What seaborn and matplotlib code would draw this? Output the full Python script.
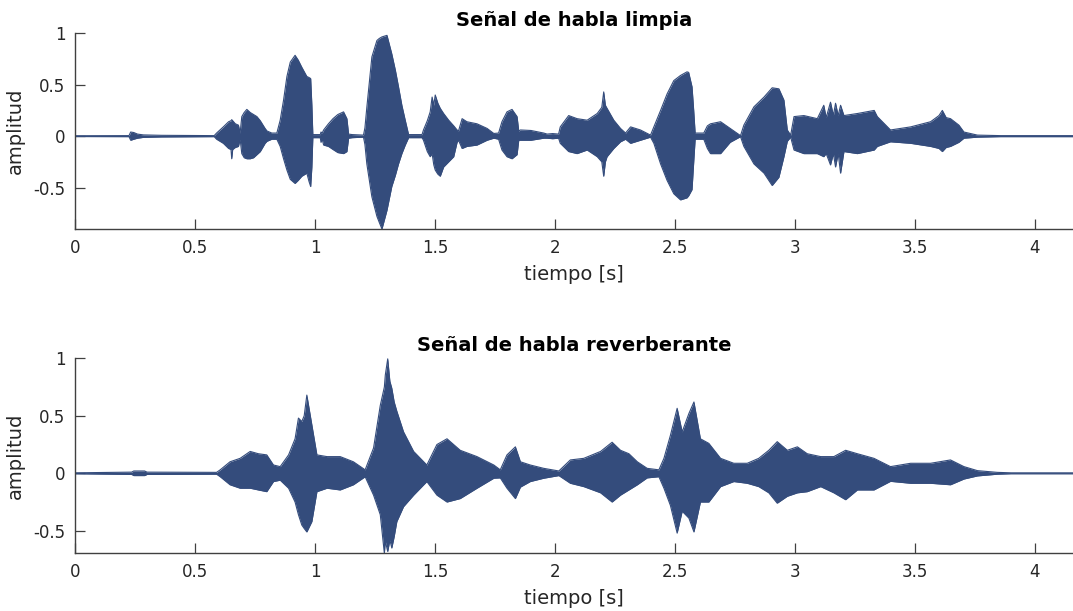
import numpy as np
import pandas as pd
import matplotlib
matplotlib.use("Agg")
import matplotlib.pyplot as plt
import seaborn as sns
from matplotlib.ticker import FormatStrFormatter

# ---------------- data (envelope) ----------------
titles = ["Señal de habla limpia", "Señal de habla reverberante"]
xlabel = "tiempo [s]"
ylabel = "amplitud"
x_ticks = [0, 0.5, 1, 1.5, 2, 2.5, 3, 3.5, 4]
y_ticks = [-0.5, 0, 0.5, 1]

clean_t = [0.000, 0.225, 0.232, 0.245, 0.26, 0.285, 0.36, 0.58, 0.59, 0.618, 0.64,
           0.650, 0.653, 0.657, 0.668, 0.681, 0.688, 0.695, 0.705, 0.716, 0.73, 0.744, 0.758, 0.772,
           0.792, 0.80, 0.82, 0.841, 0.855, 0.869, 0.883, 0.897, 0.917, 0.93, 0.945,
           0.966, 0.975, 0.982, 0.987, 0.991, 1.022, 1.025, 1.030, 1.036, 1.056, 1.075, 1.095,
           1.119, 1.133, 1.14, 1.155, 1.202, 1.208, 1.216, 1.237, 1.258, 1.268, 1.279, 1.30,
           1.32, 1.335, 1.348, 1.362, 1.376, 1.39, 1.446, 1.452, 1.468, 1.48, 1.488, 1.495,
           1.501, 1.512, 1.522, 1.536, 1.557, 1.578, 1.592, 1.598, 1.613, 1.633, 1.675, 1.717,
           1.745, 1.765, 1.779, 1.80, 1.821, 1.842, 1.849, 1.856, 1.90, 1.953, 1.967, 1.99,
           2.015, 2.022, 2.057, 2.092, 2.134, 2.176, 2.195, 2.203, 2.210, 2.217, 2.245, 2.273,
           2.294, 2.315, 2.356, 2.398, 2.412, 2.44, 2.467, 2.495, 2.523, 2.55, 2.557, 2.571,
           2.578, 2.584, 2.62, 2.635, 2.648, 2.69, 2.73, 2.773, 2.787, 2.829, 2.871, 2.905,
           2.933, 2.954, 2.968, 2.982, 2.996, 3.037, 3.093, 3.12, 3.13, 3.148, 3.16, 3.169,
           3.18, 3.19, 3.204, 3.26, 3.33, 3.343, 3.398, 3.482, 3.565, 3.60, 3.614, 3.63,
           3.648, 3.683, 3.704, 3.76, 3.857, 4.16]
clean_up = [0.004, 0.005, 0.04, 0.035, 0.02, 0.012, 0.008, 0.005, 0.03, 0.09, 0.14,
            0.15, 0.16, 0.15, 0.12, 0.107, 0.03, 0.19, 0.23, 0.26, 0.23, 0.21, 0.19, 0.15,
            0.075, 0.05, 0.03, 0.03, 0.155, 0.35, 0.58, 0.72, 0.786, 0.74, 0.67,
            0.58, 0.57, 0.56, 0.30, 0.015, 0.015, 0.04, 0.03, 0.06, 0.12, 0.17, 0.21,
            0.236, 0.17, 0.02, 0.015, 0.01, 0.08, 0.28, 0.77, 0.93, 0.95, 0.965, 0.98,
            0.80, 0.64, 0.48, 0.30, 0.155, 0.015, 0.015, 0.06, 0.15, 0.236, 0.38, 0.30,
            0.40, 0.32, 0.27, 0.22, 0.155, 0.10, 0.06, 0.05, 0.17, 0.14, 0.12, 0.075,
            0.026, 0.03, 0.14, 0.236, 0.26, 0.19, 0.05, 0.06, 0.055, 0.03, 0.02, 0.025,
            0.02, 0.09, 0.20, 0.17, 0.155, 0.22, 0.28, 0.43, 0.30, 0.27, 0.155, 0.075,
            0.03, 0.09, 0.06, 0.01, 0.09, 0.25, 0.41, 0.54, 0.59, 0.625, 0.62, 0.48,
            0.25, 0.03, 0.03, 0.10, 0.12, 0.14, 0.075, 0.005, 0.107, 0.285, 0.38, 0.47,
            0.46, 0.35, 0.06, 0.01, 0.19, 0.20, 0.17, 0.30, 0.18, 0.33, 0.20, 0.32,
            0.20, 0.30, 0.20, 0.22, 0.25, 0.19, 0.06, 0.09, 0.14, 0.20, 0.25, 0.18,
            0.17, 0.107, 0.04, 0.01, 0.005, 0.005]
clean_lo = [-0.004, -0.005, -0.04, -0.03, -0.02, -0.012, -0.008, -0.005, -0.03, -0.07, -0.12,
            -0.13, -0.22, -0.13, -0.11, -0.10, -0.03, -0.17, -0.21, -0.22, -0.22, -0.21, -0.18, -0.15,
            -0.07, -0.05, -0.03, -0.03, -0.10, -0.22, -0.33, -0.42, -0.46, -0.43, -0.39,
            -0.36, -0.44, -0.49, -0.30, -0.015, -0.015, -0.06, -0.03, -0.087, -0.10, -0.13, -0.16,
            -0.17, -0.15, -0.02, -0.015, -0.01, -0.08, -0.27, -0.59, -0.78, -0.84, -0.903, -0.72,
            -0.49, -0.38, -0.27, -0.17, -0.087, -0.015, -0.015, -0.04, -0.15, -0.20, -0.17, -0.28,
            -0.33, -0.37, -0.39, -0.30, -0.25, -0.20, -0.06, -0.04, -0.12, -0.10, -0.087, -0.04,
            -0.02, -0.03, -0.135, -0.20, -0.22, -0.18, -0.04, -0.04, -0.04, -0.02, -0.02, -0.025,
            -0.02, -0.07, -0.15, -0.17, -0.135, -0.20, -0.25, -0.39, -0.25, -0.20, -0.12, -0.055,
            -0.03, -0.07, -0.04, -0.01, -0.07, -0.27, -0.43, -0.56, -0.62, -0.60, -0.58, -0.52,
            -0.25, -0.03, -0.03, -0.12, -0.17, -0.17, -0.06, -0.005, -0.10, -0.27, -0.36, -0.48,
            -0.40, -0.20, -0.05, -0.01, -0.135, -0.17, -0.17, -0.20, -0.17, -0.28, -0.17, -0.30,
            -0.17, -0.36, -0.15, -0.17, -0.135, -0.10, -0.055, -0.07, -0.10, -0.12, -0.15, -0.11,
            -0.10, -0.06, -0.02, -0.01, -0.005, -0.005]

reverb_t = [0.000, 0.236, 0.245, 0.29, 0.30, 0.59, 0.605, 0.646, 0.688, 0.73, 0.764,
            0.799, 0.827, 0.855, 0.89, 0.917, 0.931, 0.945, 0.955, 0.966, 0.987, 1.008,
            1.05, 1.105, 1.16, 1.209, 1.244, 1.272, 1.289, 1.293, 1.303, 1.312, 1.32, 1.33,
            1.341, 1.369, 1.411, 1.466, 1.508, 1.55, 1.605, 1.675, 1.745, 1.772, 1.80,
            1.835, 1.856, 1.897, 1.953, 2.016, 2.064, 2.12, 2.19, 2.238, 2.273, 2.308,
            2.343, 2.384, 2.433, 2.454, 2.481, 2.509, 2.53, 2.558, 2.579, 2.606, 2.641,
            2.69, 2.745, 2.801, 2.849, 2.891, 2.926, 2.968, 3.01, 3.051, 3.107, 3.162,
            3.211, 3.26, 3.329, 3.398, 3.482, 3.565, 3.648, 3.704, 3.76, 3.843, 3.90, 4.16]
reverb_up = [0.004, 0.01, 0.02, 0.02, 0.01, 0.008, 0.03, 0.10, 0.13, 0.19, 0.17,
             0.16, 0.072, 0.058, 0.16, 0.30, 0.48, 0.45, 0.50, 0.68, 0.42, 0.16,
             0.145, 0.145, 0.10, 0.03, 0.22, 0.59, 0.75, 0.855, 0.995, 0.80, 0.74, 0.62,
             0.54, 0.36, 0.19, 0.072, 0.25, 0.30, 0.20, 0.145, 0.072, 0.03, 0.16,
             0.23, 0.10, 0.072, 0.043, 0.02, 0.116, 0.13, 0.19, 0.27, 0.20, 0.17,
             0.10, 0.043, 0.03, 0.13, 0.33, 0.565, 0.36, 0.52, 0.62, 0.30, 0.26,
             0.13, 0.087, 0.087, 0.13, 0.20, 0.275, 0.20, 0.23, 0.17, 0.145, 0.145,
             0.20, 0.17, 0.13, 0.058, 0.087, 0.087, 0.116, 0.058, 0.023, 0.008, 0.004, 0.004]
reverb_lo = [-0.004, -0.01, -0.02, -0.02, -0.01, -0.008, -0.03, -0.10, -0.13, -0.13, -0.145,
             -0.16, -0.072, -0.06, -0.13, -0.25, -0.36, -0.45, -0.48, -0.51, -0.42, -0.16,
             -0.13, -0.145, -0.10, -0.03, -0.19, -0.36, -0.696, -0.59, -0.68, -0.58, -0.65, -0.55,
             -0.42, -0.29, -0.19, -0.072, -0.19, -0.25, -0.22, -0.13, -0.043, -0.04, -0.13,
             -0.22, -0.12, -0.072, -0.043, -0.02, -0.087, -0.116, -0.17, -0.25, -0.19, -0.145,
             -0.10, -0.04, -0.03, -0.13, -0.28, -0.52, -0.33, -0.39, -0.51, -0.25, -0.25,
             -0.116, -0.072, -0.087, -0.116, -0.17, -0.26, -0.20, -0.17, -0.16, -0.116, -0.17,
             -0.23, -0.145, -0.145, -0.07, -0.087, -0.087, -0.10, -0.05, -0.023, -0.008, -0.004, -0.004]

# ---------------- style ----------------
sns.set_theme(style="white")
plt.rcParams["font.family"] = ["DejaVu Sans"]
plt.rcParams["axes.unicode_minus"] = False

wave_color = "#344c7c"
axis_color = "#404040"
text_color = "#262626"

fig = plt.figure(figsize=(10.73, 6.11), dpi=100)
ax_top = fig.add_axes([0.0699, 0.6252, 0.930, 0.3203])
ax_bot = fig.add_axes([0.0699, 0.0944, 0.930, 0.3192])

series = [
    (ax_top, clean_t, clean_up, clean_lo, (-0.903, 1.0)),
    (ax_bot, reverb_t, reverb_up, reverb_lo, (-0.696, 1.0)),
]

for i, (ax, t, up, lo, ylim) in enumerate(series):
    df = pd.DataFrame({"t": t, "up": up, "lo": lo})
    ax.fill_between(df["t"], df["lo"], df["up"], color=wave_color, linewidth=0)
    sns.lineplot(data=df, x="t", y="up", ax=ax, color=wave_color, linewidth=0.8, estimator=None)
    sns.lineplot(data=df, x="t", y="lo", ax=ax, color=wave_color, linewidth=0.8, estimator=None)
    ax.set_xlim(0, 4.158)
    ax.set_ylim(*ylim)
    ax.set_xticks(x_ticks)
    ax.set_yticks(y_ticks)
    ax.xaxis.set_major_formatter(FormatStrFormatter("%g"))
    ax.yaxis.set_major_formatter(FormatStrFormatter("%g"))
    for side in ["top", "right"]:
        ax.spines[side].set_visible(False)
    for side in ["left", "bottom"]:
        ax.spines[side].set_color(axis_color)
        ax.spines[side].set_linewidth(1.0)
    ax.tick_params(axis="both", which="major", bottom=True, left=True, top=False, right=False,
                   direction="in", length=7.5, width=0.9, color=axis_color,
                   labelsize=12, labelcolor=text_color, pad=7)
    ax.set_xlabel(xlabel, fontsize=14, color=text_color)
    ax.set_ylabel(ylabel, fontsize=14, color=text_color)
    ax.xaxis.set_label_coords(0.5, -0.185)
    ax.yaxis.set_label_coords(-0.05, 0.5)
    ax.set_title(titles[i], fontsize=14, fontweight="bold", color="black", pad=5)

fig.savefig("out.png", dpi=100)
